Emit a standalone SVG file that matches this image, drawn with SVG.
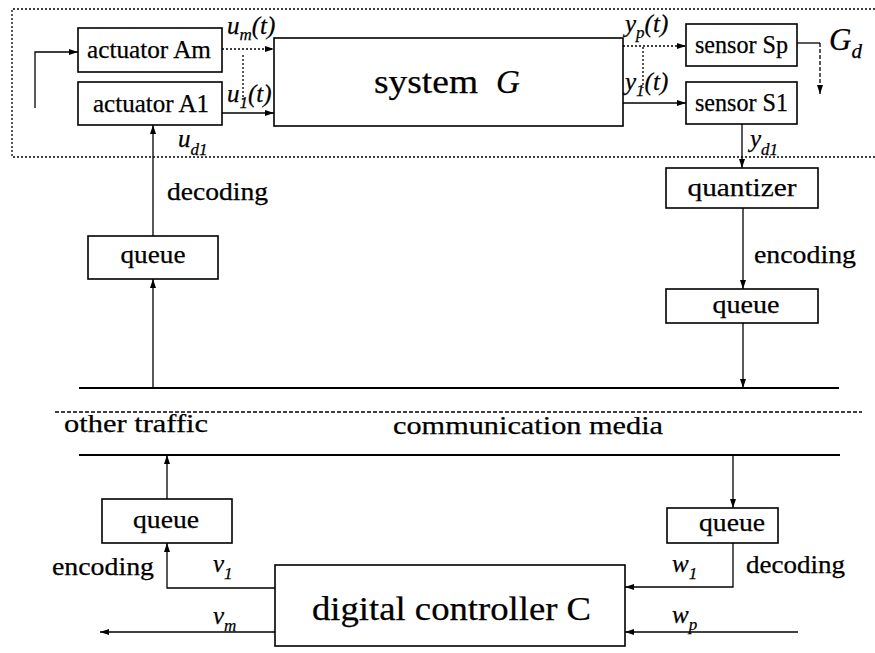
<svg xmlns="http://www.w3.org/2000/svg" width="875" height="653" viewBox="0 0 875 653">
  <style>
    .box { fill: #fff; stroke: #000; stroke-width: 1.6; }
    .ln { fill: none; stroke: #000; stroke-width: 1.3; }
    .bus { fill: none; stroke: #000; stroke-width: 2; }
    .dot { stroke-dasharray: 2 2; }
    .dash { stroke-dasharray: 4 2; }
    .t { font-family: "Liberation Serif", "Times New Roman", serif; font-size: 25px; fill: #000; stroke: #000; stroke-width: 0.25; }
    .c { text-anchor: middle; }
    .m { font-family: "Liberation Serif", "Times New Roman", serif; font-style: italic; font-size: 25px; fill: #000; stroke: #000; stroke-width: 0.25; }
    .sub { font-size: 17px; }
    .big { font-size: 33px; }
    .gd { font-size: 31px; }
    .gdsub { font-size: 21px; }
  </style>
  <defs>
    <marker id="ah" markerWidth="10" markerHeight="8" refX="9" refY="3.5" orient="auto" markerUnits="userSpaceOnUse">
      <path d="M0,0.5 L9,3.5 L0,6.5 z" fill="#000"/>
    </marker>
  </defs>

  <!-- discretised plant boundary G_d -->
  <g id="plant-boundary">
    <path class="ln dot" d="M875,9 H12 V157 H875" stroke-width="1.5"/>
    <text class="m gd" x="829" y="50">G<tspan class="gdsub" dy="8">d</tspan></text>
  </g>

  <g id="actuator-am">
    <rect class="box" x="78" y="28" width="144" height="44"/>
    <text class="t c" x="149" y="58" textLength="124" lengthAdjust="spacingAndGlyphs">actuator Am</text>
  </g>
  <g id="actuator-a1">
    <rect class="box" x="78" y="82" width="144" height="43"/>
    <text class="t c" x="151" y="112" textLength="116" lengthAdjust="spacingAndGlyphs">actuator A1</text>
  </g>

  <g id="system-g">
    <rect class="box" x="274" y="38" width="349" height="88"/>
    <text class="t big" x="374" y="93" textLength="104" lengthAdjust="spacingAndGlyphs">system</text>
    <text class="m big" x="496" y="93">G</text>
  </g>

  <g id="sensor-sp">
    <rect class="box" x="686" y="24" width="111" height="42"/>
    <text class="t c" x="741.5" y="53" textLength="93" lengthAdjust="spacingAndGlyphs">sensor Sp</text>
  </g>
  <g id="sensor-s1">
    <rect class="box" x="686" y="82" width="111" height="42"/>
    <text class="t c" x="741.5" y="111" textLength="93" lengthAdjust="spacingAndGlyphs">sensor S1</text>
  </g>

  <g id="quantizer">
    <rect class="box" x="666" y="168" width="152" height="40"/>
    <text class="t c" x="742" y="196" textLength="109" lengthAdjust="spacingAndGlyphs">quantizer</text>
  </g>

  <g id="queue-sensor">
    <rect class="box" x="666" y="289" width="152" height="34"/>
    <text class="t c" x="746" y="313" textLength="67" lengthAdjust="spacingAndGlyphs">queue</text>
  </g>

  <g id="queue-actuator">
    <rect class="box" x="88" y="236" width="130" height="43"/>
    <text class="t c" x="153" y="263" textLength="65" lengthAdjust="spacingAndGlyphs">queue</text>
  </g>

  <g id="communication-media">
    <path class="bus" d="M79,388 H839"/>
    <path class="ln dash" d="M55,412 H862"/>
    <path class="bus" d="M79,455 H840"/>
    <text class="t" x="64" y="432" textLength="144" lengthAdjust="spacingAndGlyphs">other traffic</text>
    <text class="t" x="393" y="434" textLength="270" lengthAdjust="spacingAndGlyphs">communication media</text>
  </g>

  <g id="queue-controller-out">
    <rect class="box" x="102" y="499" width="130" height="44"/>
    <text class="t c" x="166" y="528" textLength="66" lengthAdjust="spacingAndGlyphs">queue</text>
  </g>
  <g id="queue-controller-in">
    <rect class="box" x="667" y="508" width="111" height="35"/>
    <text class="t c" x="732" y="531" textLength="66" lengthAdjust="spacingAndGlyphs">queue</text>
  </g>

  <g id="controller-c">
    <rect class="box" x="275" y="565" width="350" height="81"/>
    <text class="t big" x="312" y="620" textLength="279" lengthAdjust="spacingAndGlyphs">digital controller C</text>
  </g>

  <g id="connectors">
    <path class="ln" d="M35,108 V52 H78" marker-end="url(#ah)"/>
    <path class="ln dot" d="M222,49 H274" marker-end="url(#ah)"/>
    <path class="ln" d="M222,113 H274" marker-end="url(#ah)"/>
    <path class="ln dot" d="M243,55 V100"/>
    <path class="ln dot" d="M623,46 H686" marker-end="url(#ah)"/>
    <path class="ln" d="M623,103 H686" marker-end="url(#ah)"/>
    <path class="ln dot" d="M643,47 V88"/>
    <path class="ln" d="M797,43 H820"/>
    <path class="ln dash" d="M820,43 V94" marker-end="url(#ah)"/>
    <path class="ln" d="M742,124 V168" marker-end="url(#ah)"/>
    <path class="ln" d="M743,208 V289" marker-end="url(#ah)"/>
    <path class="ln" d="M743,323 V388" marker-end="url(#ah)"/>
    <path class="ln" d="M153,388 V279" marker-end="url(#ah)"/>
    <path class="ln" d="M153,236 V125" marker-end="url(#ah)"/>
    <path class="ln" d="M733,455 V508" marker-end="url(#ah)"/>
    <path class="ln" d="M733,543 V587 H625" marker-end="url(#ah)"/>
    <path class="ln" d="M798,632 H625" marker-end="url(#ah)"/>
    <path class="ln" d="M275,588 H167 V543" marker-end="url(#ah)"/>
    <path class="ln" d="M167,499 V455" marker-end="url(#ah)"/>
    <path class="ln" d="M275,632 H100" marker-end="url(#ah)"/>
  </g>

  <g id="signal-labels">
    <text class="m" x="227" y="34">u<tspan class="sub" dy="6">m</tspan><tspan dy="-6">(t)</tspan></text>
    <text class="m" x="227" y="102">u<tspan class="sub" dy="6">1</tspan><tspan dy="-6">(t)</tspan></text>
    <text class="m" x="178" y="147">u<tspan class="sub" dy="8">d1</tspan></text>
    <text class="m" x="625" y="32">y<tspan class="sub" dy="6">p</tspan><tspan dy="-6">(t)</tspan></text>
    <text class="m" x="625" y="90">y<tspan class="sub" dy="6">1</tspan><tspan dy="-6">(t)</tspan></text>
    <text class="m" x="750" y="147">y<tspan class="sub" dy="8">d1</tspan></text>
    <text class="t" x="167" y="200" textLength="101" lengthAdjust="spacingAndGlyphs">decoding</text>
    <text class="t" x="754" y="263" textLength="102" lengthAdjust="spacingAndGlyphs">encoding</text>
    <text class="t" x="52" y="575" textLength="102" lengthAdjust="spacingAndGlyphs">encoding</text>
    <text class="t" x="746" y="573" textLength="99" lengthAdjust="spacingAndGlyphs">decoding</text>
    <text class="m" x="213" y="572">v<tspan class="sub" dy="7">1</tspan></text>
    <text class="m" x="213" y="624">v<tspan class="sub" dy="7">m</tspan></text>
    <text class="m" x="672" y="572">w<tspan class="sub" dy="7">1</tspan></text>
    <text class="m" x="672" y="623">w<tspan class="sub" dy="7">p</tspan></text>
  </g>
</svg>
